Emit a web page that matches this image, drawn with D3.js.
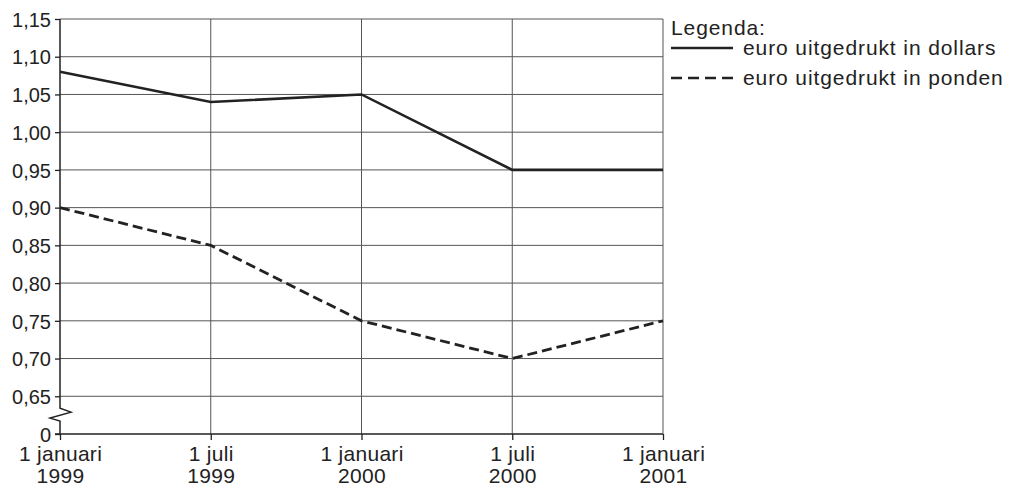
<!DOCTYPE html>
<html lang="nl">
<head>
    <meta charset="UTF-8">
    <title>Euro koers</title>
    <script src="https://d3js.org/d3.v7.min.js"></script>
    <style>
        body {
            margin: 0;
            padding: 0;
            background: #fff;
        }

        svg {
            display: block;
            font-family: "Liberation Sans", Arial, sans-serif;
        }

        .grid line {
            stroke: #555;
            stroke-width: 1;
        }

        .axis text {
            fill: #222;
        }

        .legend text {
            font-size: 21px;
            letter-spacing: 0.9px;
            fill: #222;
        }
    </style>
</head>
<body>

<svg id="chart"></svg>

<script>
    // data
    const dates = ["1 januari 1999", "1 juli 1999", "1 januari 2000", "1 juli 2000", "1 januari 2001"];
    const xLabels = [
        ["1 januari", "1999"],
        ["1 juli", "1999"],
        ["1 januari", "2000"],
        ["1 juli", "2000"],
        ["1 januari", "2001"]
    ];
    const dollars = [1.08, 1.04, 1.05, 0.95, 0.95];
    const ponden = [0.90, 0.85, 0.75, 0.70, 0.75];
    const yTicks = [0.60, 0.65, 0.70, 0.75, 0.80, 0.85, 0.90, 0.95, 1.00, 1.05, 1.10, 1.15];
    const yTickLabels = ["0", "0,65", "0,70", "0,75", "0,80", "0,85", "0,90", "0,95", "1,00", "1,05", "1,10", "1,15"];
    const seriesNames = ["euro uitgedrukt in dollars", "euro uitgedrukt in ponden"];

    const width = 1011;
    const height = 488;
    const margin = { top: 19, right: 348, bottom: 54, left: 60 };

    const svg = d3.select("#chart")
        .attr("width", width)
        .attr("height", height);

    const x = d3.scalePoint()
        .domain(dates)
        .range([margin.left, width - margin.right]);

    // the axis is broken between 0 and 0,65; 0 sits one step below 0,65
    const y = d3.scaleLinear()
        .domain([0.60, 1.15])
        .range([height - margin.bottom, margin.top]);

    const y0 = y(0.60);

    // grid
    const grid = svg.append("g").attr("class", "grid");

    grid.selectAll(".h")
        .data(yTicks.slice(1))
        .enter().append("line")
        .attr("x1", margin.left)
        .attr("x2", width - margin.right)
        .attr("y1", d => y(d))
        .attr("y2", d => y(d));

    grid.selectAll(".v")
        .data(dates.slice(1))
        .enter().append("line")
        .attr("x1", d => x(d))
        .attr("x2", d => x(d))
        .attr("y1", margin.top)
        .attr("y2", y0);

    // y axis (no domain line, drawn with the break below)
    const yAxis = svg.append("g")
        .attr("class", "axis")
        .attr("transform", `translate(${margin.left},0)`)
        .call(d3.axisLeft(y)
            .tickValues(yTicks)
            .tickSize(5)
            .tickPadding(4)
            .tickFormat((d, i) => yTickLabels[i]));

    yAxis.select(".domain").remove();
    yAxis.selectAll(".tick line").attr("stroke", "#222").attr("stroke-width", 1.3);
    yAxis.selectAll(".tick text").attr("font-size", 20).attr("dy", "0.36em");

    // axis line with the zigzag break
    const yb = (y(0.65) + y0) / 2;
    const xa = margin.left;
    svg.append("path")
        .attr("fill", "none")
        .attr("stroke", "#222")
        .attr("stroke-width", 1.5)
        .attr("d", d3.line()([
            [xa, margin.top], [xa, yb - 7], [xa + 11, yb - 3], [xa - 10, yb + 3],
            [xa, yb + 6], [xa, y0]
        ]));

    // x axis
    const xAxis = svg.append("g")
        .attr("class", "axis")
        .attr("transform", `translate(0,${y0})`)
        .call(d3.axisBottom(x).tickSize(6).tickFormat(""));

    xAxis.select(".domain")
        .attr("stroke", "#222")
        .attr("stroke-width", 1.5)
        .attr("d", `M${margin.left - 5},0H${width - margin.right}`);
    xAxis.selectAll(".tick line").attr("stroke", "#222").attr("stroke-width", 1.3);

    xAxis.selectAll(".tick")
        .append("text")
        .attr("text-anchor", "middle")
        .attr("fill", "#222")
        .attr("font-size", 21)
        .style("letter-spacing", "0.3px")
        .selectAll("tspan")
        .data((d, i) => xLabels[i])
        .enter().append("tspan")
        .attr("x", 0)
        .attr("y", (d, i) => 27 + i * 22)
        .text(d => d);

    // lines
    const line = d3.line()
        .x((d, i) => x(dates[i]))
        .y(d => y(d));

    svg.append("path")
        .datum(dollars)
        .attr("fill", "none")
        .attr("stroke", "#222")
        .attr("stroke-width", 2.6)
        .attr("d", line);

    svg.append("path")
        .datum(ponden)
        .attr("fill", "none")
        .attr("stroke", "#222")
        .attr("stroke-width", 2.8)
        .attr("stroke-dasharray", "10,5")
        .attr("d", line);

    // legend
    const lx = width - margin.right + 8;
    const legend = svg.append("g").attr("class", "legend");

    legend.append("text")
        .attr("x", lx)
        .attr("y", 35)
        .text("Legenda:");

    const rows = legend.selectAll(".row")
        .data(seriesNames)
        .enter().append("g")
        .attr("transform", (d, i) => `translate(${lx},${48 + i * 30})`);

    rows.append("line")
        .attr("x1", 0)
        .attr("x2", 62)
        .attr("stroke", "#222")
        .attr("stroke-width", 2.4)
        .attr("stroke-dasharray", (d, i) => i === 1 ? "11,6" : null);

    rows.append("text")
        .attr("x", 72)
        .attr("y", 7)
        .text(d => d);
</script>

</body>
</html>
